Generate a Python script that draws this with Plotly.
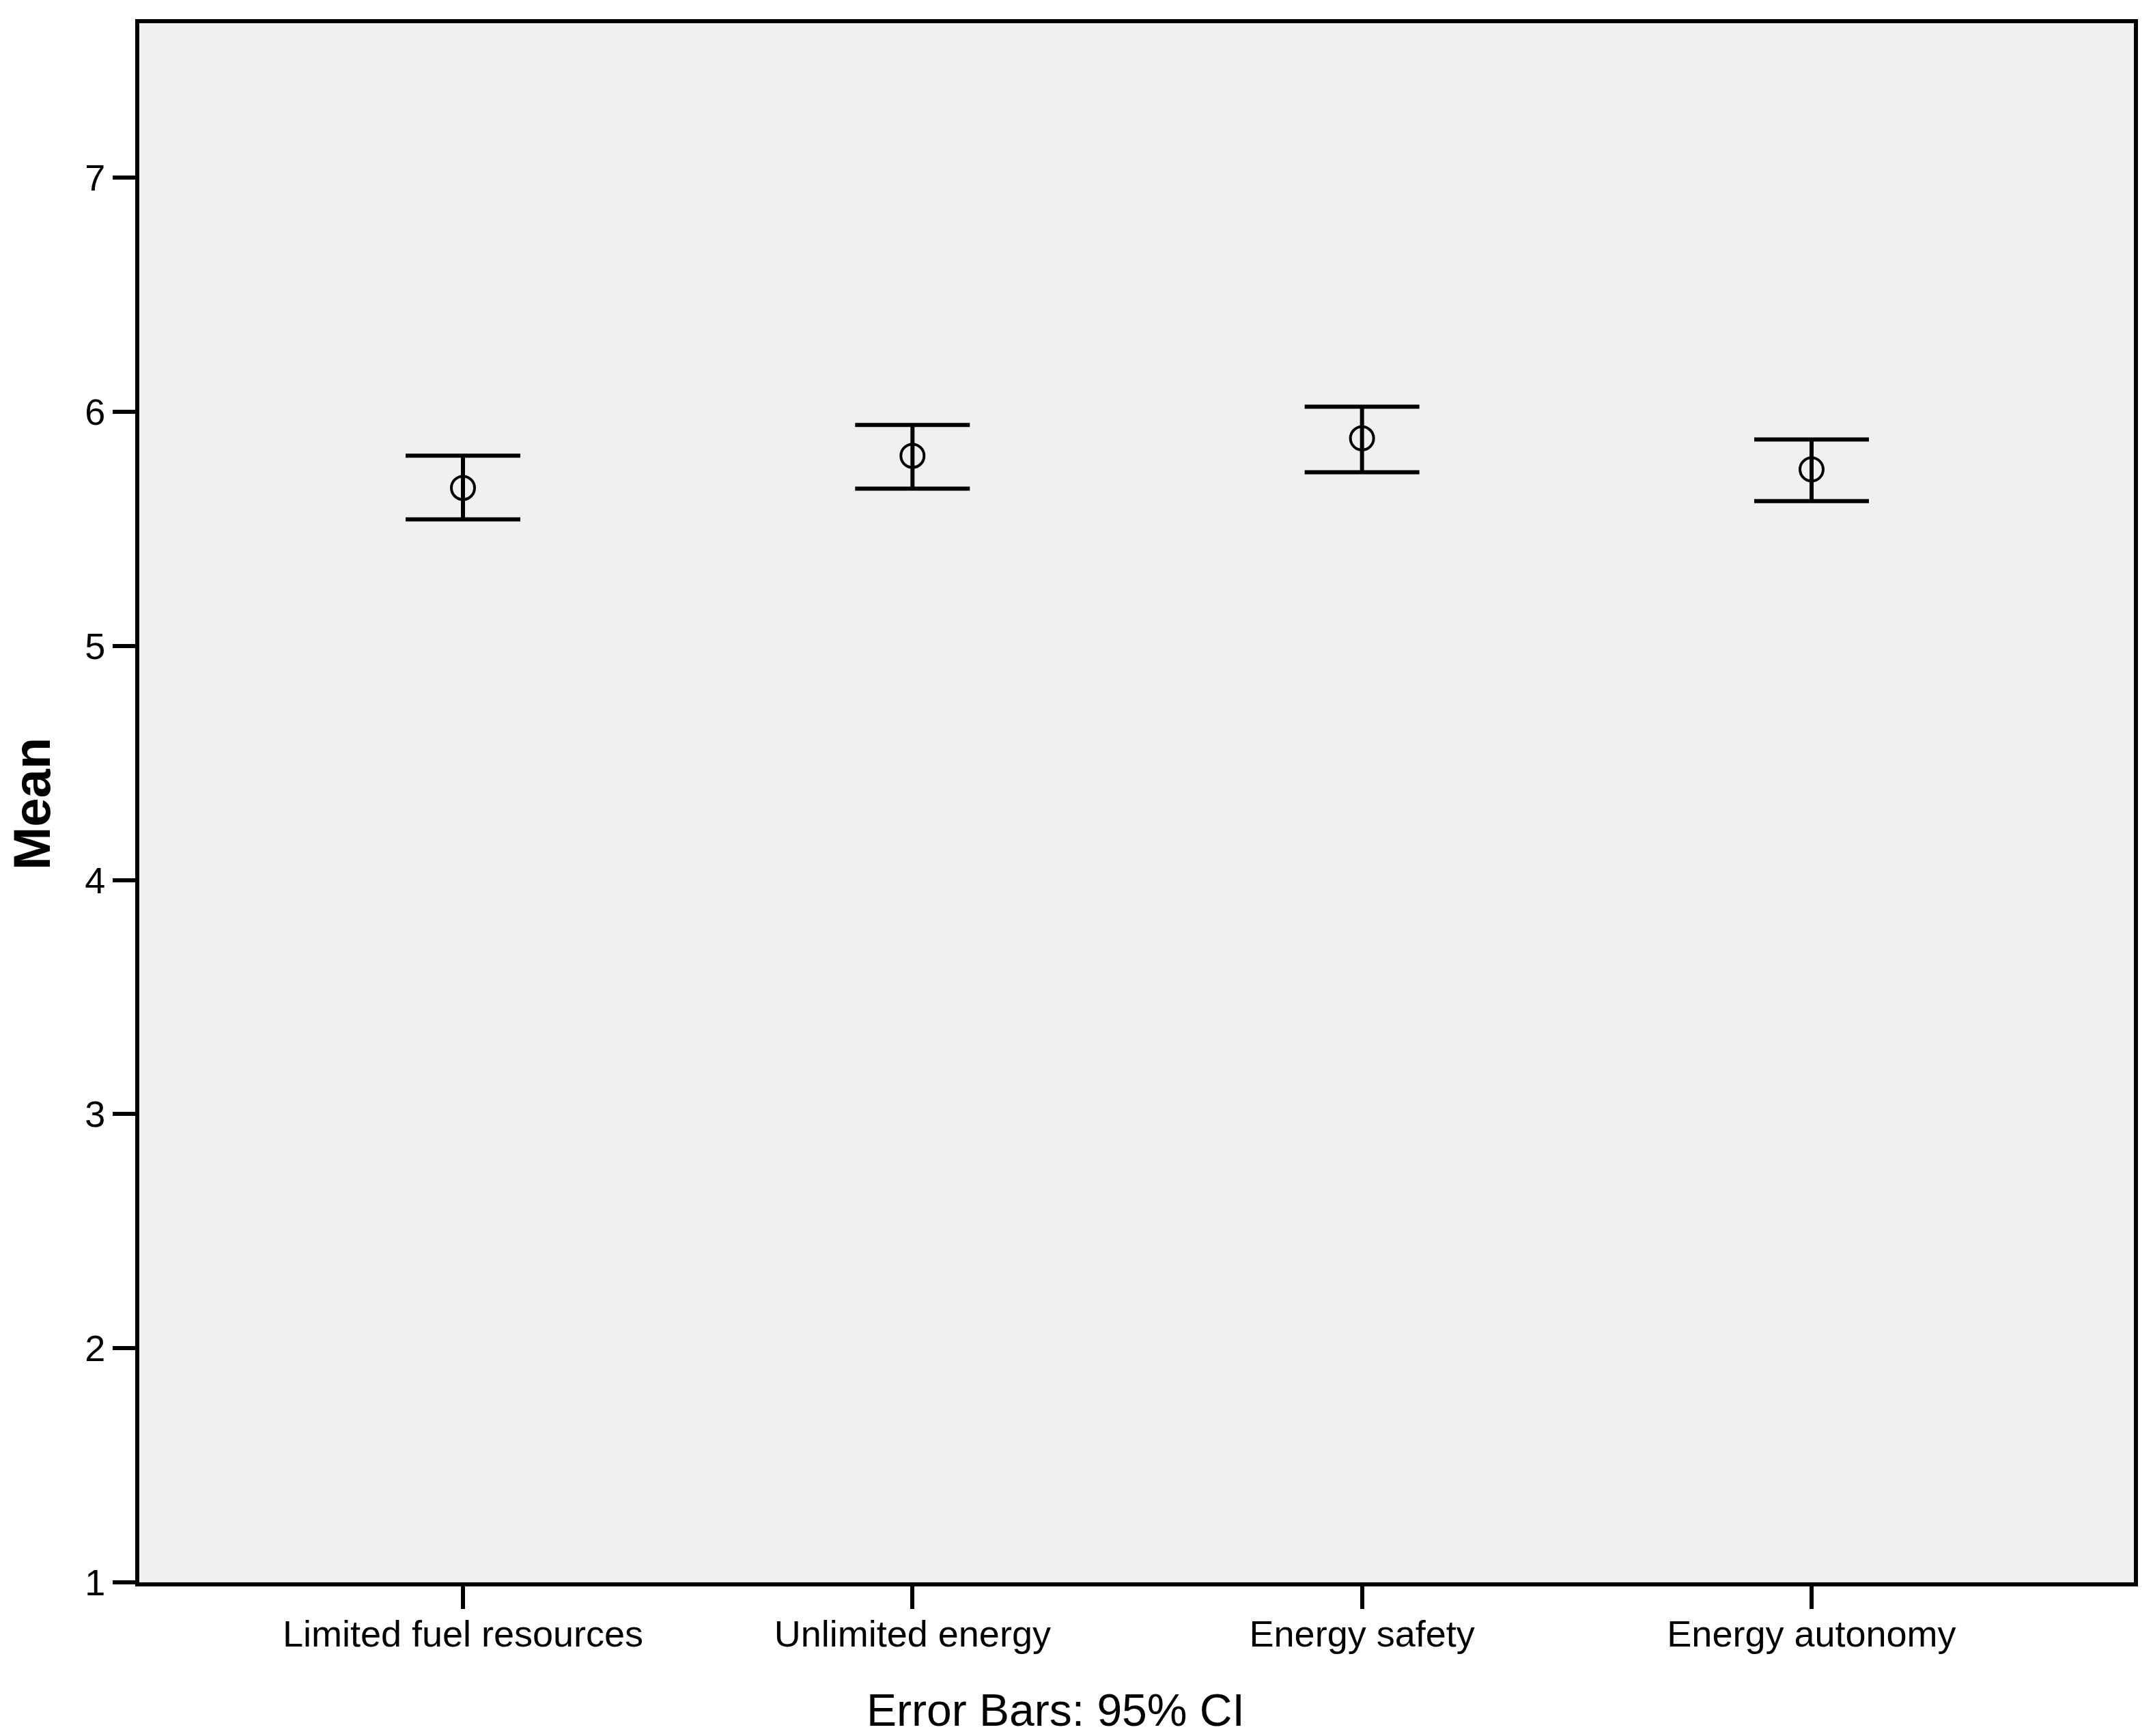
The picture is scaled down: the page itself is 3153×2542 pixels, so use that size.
import plotly.graph_objects as go

categories = ["Limited fuel resources", "Unlimited energy", "Energy safety", "Energy autonomy"]
means = [5.675, 5.812, 5.887, 5.754]
ci_low = [5.541, 5.672, 5.742, 5.619]
ci_high = [5.813, 5.944, 6.022, 5.882]
y_ticks = [1, 2, 3, 4, 5, 6, 7]

font = "Liberation Sans, Arial, sans-serif"

err_plus = [h - m for h, m in zip(ci_high, means)]
err_minus = [m - l for m, l in zip(means, ci_low)]

fig = go.Figure()
fig.add_trace(go.Scatter(
    x=categories, y=means, mode="markers",
    marker=dict(symbol="circle-open", size=34, color="black", line=dict(width=4, color="black")),
    error_y=dict(type="data", symmetric=False, array=err_plus, arrayminus=err_minus,
                 color="black", thickness=6, width=84),
    showlegend=False,
))

fig.update_layout(
    width=3153, height=2542,
    margin=dict(l=204, r=28, t=34, b=225),
    paper_bgcolor="white", plot_bgcolor="#F0F0F0",
    font=dict(family=font, size=54, color="black"),
    xaxis=dict(
        type="category", range=[-0.72, 3.717],
        showgrid=False, zeroline=False,
        showline=True, linewidth=6, linecolor="black", mirror=True,
        ticks="outside", ticklen=33, tickwidth=6, tickcolor="black",
        tickfont=dict(size=54, family=font), ticklabelstandoff=-10,
    ),
    yaxis=dict(
        range=[1, 7.66], tickvals=y_ticks,
        showgrid=False, zeroline=False,
        showline=True, linewidth=6, linecolor="black", mirror=True,
        ticks="outside", ticklen=33, tickwidth=6, tickcolor="black",
        tickfont=dict(size=54, family=font),
    ),
    annotations=[
        dict(text="Error Bars: 95% CI", xref="paper", yref="paper",
             x=0.4594, y=-0.0819, xanchor="center", yanchor="middle",
             showarrow=False, font=dict(size=66, family=font)),
        dict(text="<b>Mean</b>", xref="paper", yref="paper",
             x=-0.0541, y=0.4993, xanchor="center", yanchor="middle", textangle=-90,
             showarrow=False, font=dict(size=76, family=font)),
    ],
)

fig.write_html("out.html", config={"displayModeBar": False},
               post_script="document.body.style.margin='0';")
